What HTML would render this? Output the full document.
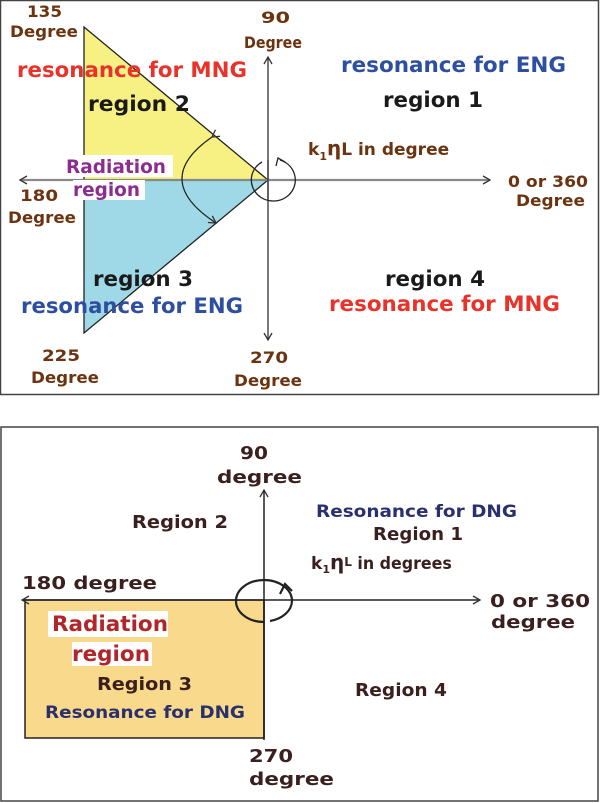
<!DOCTYPE html>
<html><head><meta charset="utf-8"><style>
html,body{margin:0;padding:0;background:#fff}
svg{display:block}
text{font-family:"DejaVu Sans","Liberation Sans",sans-serif;font-weight:bold}
</style></head><body>
<svg width="600" height="803" viewBox="0 0 600 803" xmlns="http://www.w3.org/2000/svg">
<defs>
<marker id="a" markerWidth="10" markerHeight="10" refX="8" refY="5" orient="auto" markerUnits="userSpaceOnUse"><path d="M1,1 L8,5 L1,9" fill="none" stroke="#333" stroke-width="1.3"/></marker>
</defs>
<rect x="0.5" y="0.5" width="598" height="394" fill="#fff" stroke="#444" stroke-width="1.5"/>
<polygon points="84,27 84,180 268,180" fill="#f7f183"/>
<polygon points="84,180 84,333 268,180" fill="#9fd8e6"/>
<polygon points="84,27 84,333 268,180" fill="none" stroke="#222" stroke-width="1.3"/>
<line x1="268" y1="180" x2="20" y2="180" stroke="#888" stroke-width="2.2" marker-end="url(#a)"/>
<line x1="268" y1="180" x2="490" y2="180" stroke="#888" stroke-width="2.2" marker-end="url(#a)"/>
<line x1="268" y1="200" x2="268" y2="57" stroke="#333" stroke-width="1.3" marker-end="url(#a)"/>
<line x1="268" y1="160" x2="268" y2="340" stroke="#333" stroke-width="1.3" marker-end="url(#a)"/>
<path d="M212,137 Q150,180 216,223" fill="none" stroke="#222" stroke-width="1.2" marker-start="url(#a)" marker-end="url(#a)"/>
<path d="M262,162 A22,21 0 1 0 280,160" fill="none" stroke="#222" stroke-width="1.3"/>
<path d="M276,166 L278,158 L285,162" fill="none" stroke="#222" stroke-width="1.3"/>
<rect x="66" y="155" width="107" height="22" fill="#fff"/>
<rect x="73" y="180" width="72" height="20" fill="#fff"/>
<g font-size="16" fill="#6b3410">
<text x="27" y="17" textLength="35" lengthAdjust="spacingAndGlyphs">135</text><text x="10" y="37" textLength="68" lengthAdjust="spacingAndGlyphs">Degree</text>
<text x="261" y="23" textLength="29" lengthAdjust="spacingAndGlyphs">90</text><text x="244" y="48" textLength="58" lengthAdjust="spacingAndGlyphs">Degree</text>
<text x="20" y="201" textLength="38" lengthAdjust="spacingAndGlyphs">180</text><text x="8" y="223" textLength="68" lengthAdjust="spacingAndGlyphs">Degree</text>
<text x="508" y="187" textLength="80" lengthAdjust="spacingAndGlyphs">0 or 360</text><text x="516" y="206" textLength="69" lengthAdjust="spacingAndGlyphs">Degree</text>
<text x="42" y="361" textLength="38" lengthAdjust="spacingAndGlyphs">225</text><text x="31" y="383" textLength="68" lengthAdjust="spacingAndGlyphs">Degree</text>
<text x="250" y="363" textLength="38" lengthAdjust="spacingAndGlyphs">270</text><text x="234" y="386" textLength="68" lengthAdjust="spacingAndGlyphs">Degree</text>
<text x="308" y="155" font-weight="normal" font-size="17">k<tspan font-size="11" dy="5">1</tspan><tspan dy="-5" font-size="20">η</tspan><tspan>L in degree</tspan></text>
</g>
<g font-size="21">
<text x="17" y="77" fill="#e8332b" textLength="230" lengthAdjust="spacingAndGlyphs">resonance for MNG</text>
<text x="341" y="72" fill="#2e4ea0" textLength="225" lengthAdjust="spacingAndGlyphs">resonance for ENG</text>
<text x="88" y="111" fill="#1a1a1a" textLength="102" lengthAdjust="spacingAndGlyphs">region 2</text>
<text x="383" y="107" fill="#1a1a1a" textLength="100" lengthAdjust="spacingAndGlyphs">region 1</text>
<text x="93" y="286" fill="#1a1a1a" textLength="100" lengthAdjust="spacingAndGlyphs">region 3</text>
<text x="385" y="286" fill="#1a1a1a" textLength="100" lengthAdjust="spacingAndGlyphs">region 4</text>
<text x="21" y="313" fill="#2e4ea0" textLength="222" lengthAdjust="spacingAndGlyphs">resonance for ENG</text>
<text x="329" y="311" fill="#e8332b" textLength="231" lengthAdjust="spacingAndGlyphs">resonance for MNG</text>
</g>
<text x="66" y="173" font-size="19" fill="#8a2d8f" font-weight="normal" textLength="100" lengthAdjust="spacingAndGlyphs">Radiation</text>
<text x="73" y="196" font-size="19" fill="#8a2d8f" font-weight="normal" textLength="67" lengthAdjust="spacingAndGlyphs">region</text>

<rect x="1" y="427" width="597" height="374" fill="#fff" stroke="#444" stroke-width="1.5"/>
<rect x="25" y="600" width="239" height="138" fill="#f9d98b" stroke="#222" stroke-width="1.5"/>
<line x1="264" y1="600" x2="22" y2="600" stroke="#222" stroke-width="1.5" marker-end="url(#a)"/>
<line x1="264" y1="600" x2="480" y2="600" stroke="#222" stroke-width="1.5" marker-end="url(#a)"/>
<line x1="264" y1="738" x2="264" y2="490" stroke="#222" stroke-width="1.5" marker-end="url(#a)"/>
<line x1="264" y1="600" x2="264" y2="740" stroke="#222" stroke-width="1.5"/>
<path d="M264,622 A28,21 0 1 1 292,601 A28,21 0 0 1 270,621" fill="none" stroke="#222" stroke-width="2.2"/>
<path d="M280,594 L285,584 L292,591" fill="none" stroke="#222" stroke-width="2.2"/>
<rect x="48" y="611" width="120" height="26" fill="#fff"/>
<rect x="72" y="642" width="80" height="24" fill="#fff"/>
<g font-size="18" fill="#3a1f1f">
<text x="240" y="459" textLength="28" lengthAdjust="spacingAndGlyphs">90</text><text x="217" y="483" textLength="85" lengthAdjust="spacingAndGlyphs">degree</text>
<text x="132" y="528" textLength="96" lengthAdjust="spacingAndGlyphs">Region 2</text>
<text x="373" y="540" textLength="90" lengthAdjust="spacingAndGlyphs">Region 1</text>
<text x="22" y="589" textLength="135" lengthAdjust="spacingAndGlyphs">180 degree</text>
<text x="490" y="607" textLength="100" lengthAdjust="spacingAndGlyphs">0 or 360</text><text x="491" y="628" textLength="84" lengthAdjust="spacingAndGlyphs">degree</text>
<text x="97" y="690" textLength="95" lengthAdjust="spacingAndGlyphs">Region 3</text>
<text x="355" y="696" textLength="92" lengthAdjust="spacingAndGlyphs">Region 4</text>
<text x="249" y="762" textLength="44" lengthAdjust="spacingAndGlyphs">270</text><text x="249" y="785" textLength="85" lengthAdjust="spacingAndGlyphs">degree</text>
<text x="311" y="569" font-size="17">k<tspan font-size="11" dy="4">1</tspan><tspan dy="-4" font-size="20">η</tspan><tspan font-size="12" dy="-3">L</tspan><tspan dy="3" textLength="100" lengthAdjust="spacingAndGlyphs">  in degrees</tspan></text>
</g>
<g font-size="17" fill="#2a2f6e">
<text x="316" y="517" textLength="201" lengthAdjust="spacingAndGlyphs">Resonance for DNG</text>
<text x="45" y="718" textLength="200" lengthAdjust="spacingAndGlyphs">Resonance for DNG</text>
</g>
<text x="52" y="631" font-size="21" fill="#b0262a" textLength="116" lengthAdjust="spacingAndGlyphs">Radiation</text>
<text x="72" y="661" font-size="21" fill="#b0262a" textLength="78" lengthAdjust="spacingAndGlyphs">region</text>
</svg>
</body></html>
